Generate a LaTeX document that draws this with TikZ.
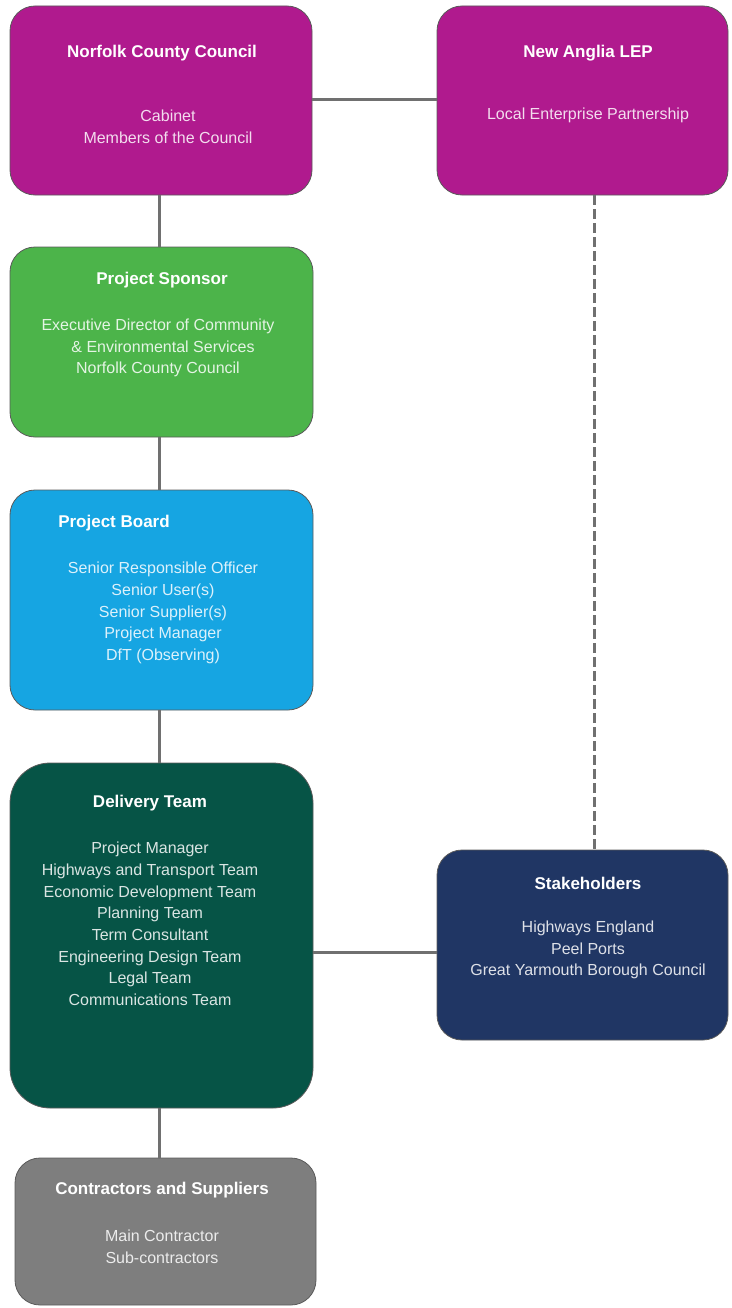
\documentclass[tikz,border=0pt]{standalone}
\usepackage{fontspec}
\setmainfont{Liberation Sans}
\definecolor{cMag}{RGB}{176,26,142}
\definecolor{cGreen}{RGB}{76,180,74}
\definecolor{cBlue}{RGB}{22,165,226}
\definecolor{cDkGreen}{RGB}{6,84,70}
\definecolor{cNavy}{RGB}{32,54,100}
\definecolor{cGray}{RGB}{126,126,126}
\definecolor{cLine}{RGB}{112,112,112}
\begin{document}
\begin{tikzpicture}[x=1pt,y=-1pt,
  box/.style={draw=cLine!80!black,line width=0.8pt,rounded corners=25pt,inner sep=0pt},
  ttl/.style={font=\fontsize{17}{20}\selectfont\bfseries,text=white,inner sep=0pt},
  bdy/.style={font=\fontsize{16}{21.7}\selectfont,align=center,inner sep=0pt},
  conn/.style={draw=cLine,line width=3pt},
  dconn/.style={draw=cLine,line width=3pt,dash pattern=on 10pt off 4pt}]
\useasboundingbox (0,0) rectangle (731,1308);
% boxes
\path[box,fill=cMag] (10,6) rectangle (312,195);
\node[inner sep=0pt] (ncc) at (161,100.5) [minimum width=302pt,minimum height=189pt] {};
\path[box,fill=cMag] (437,6) rectangle (728,195);
\node[inner sep=0pt] (lep) at (582.5,100.5) [minimum width=291pt,minimum height=189pt] {};
\path[box,fill=cGreen] (10,247) rectangle (313,437);
\node[inner sep=0pt] (ps) at (161.5,342) [minimum width=303pt,minimum height=190pt] {};
\path[box,fill=cBlue] (10,490) rectangle (313,710);
\node[inner sep=0pt] (pb) at (161.5,600) [minimum width=303pt,minimum height=220pt] {};
\path[box,rounded corners=40pt,fill=cDkGreen] (10,763) rectangle (313,1108);
\node[inner sep=0pt] (dt) at (161.5,935.5) [minimum width=303pt,minimum height=345pt] {};
\path[box,fill=cNavy] (437,850) rectangle (728,1040);
\node[inner sep=0pt] (sh) at (582.5,945) [minimum width=291pt,minimum height=190pt] {};
\path[box,fill=cGray] (15,1158) rectangle (316,1305);
\node[inner sep=0pt] (cs) at (165.5,1231.5) [minimum width=301pt,minimum height=147pt] {};
% connectors
\coordinate (a1) at (ncc.east |- 0,100);
\coordinate (a2) at (lep.west |- 0,100);
\draw[conn] (a1) -- (a2);
\draw[conn] (ncc.south -| 159,0) -- (ps.north -| 159,0);
\draw[conn] (ps.south -| 159,0) -- (pb.north -| 159,0);
\draw[conn] (pb.south -| 159,0) -- (dt.north -| 159,0);
\draw[conn] (dt.south -| 159,0) -- (cs.north -| 159,0);
\coordinate (b1) at (dt.east |- 0,952);
\coordinate (b2) at (sh.west |- 0,952);
\draw[conn] (b1) -- (b2);
\draw[dconn] (lep.south -| 594,0) -- (sh.north -| 594,0);
% texts
\node[ttl] (t1) at (162,53) {Norfolk County Council};
\node[bdy,text=white!85!cMag] (b1t) at (168,127) {Cabinet\\Members of the Council};
\node[ttl] (t2) at (588,53) {New Anglia LEP};
\node[bdy,text=white!85!cMag] (b2t) at (588,115) {Local Enterprise Partnership};
\node[ttl] (t3) at (162,280) {Project Sponsor};
\node[bdy,text=white!85!cGreen] (b3t) at (158,348) {Executive Director of Community\\\hspace*{10pt}\& Environmental Services\\Norfolk County Council};
\node[ttl] (t4) at (114,523) {Project Board};
\node[bdy,text=white!85!cBlue] (b4t) at (163,613) {Senior Responsible Officer\\Senior User(s)\\Senior Supplier(s)\\Project Manager\\DfT (Observing)};
\node[ttl] (t5) at (150,803) {Delivery Team};
\node[bdy,text=white!85!cDkGreen] (b5t) at (150,924) {Project Manager\\Highways and Transport Team\\Economic Development Team\\Planning Team\\Term Consultant\\Engineering Design Team\\Legal Team\\Communications Team};
\node[ttl] (t6) at (588,883) {Stakeholders};
\node[bdy,text=white!85!cNavy] (b6t) at (588,950) {Highways England\\Peel Ports\\Great Yarmouth Borough Council};
\node[ttl] (t7) at (162,1190) {Contractors and Suppliers};
\node[bdy,text=white!85!cGray] (b7t) at (162,1247) {Main Contractor\\Sub-contractors};
\end{tikzpicture}
\end{document}
